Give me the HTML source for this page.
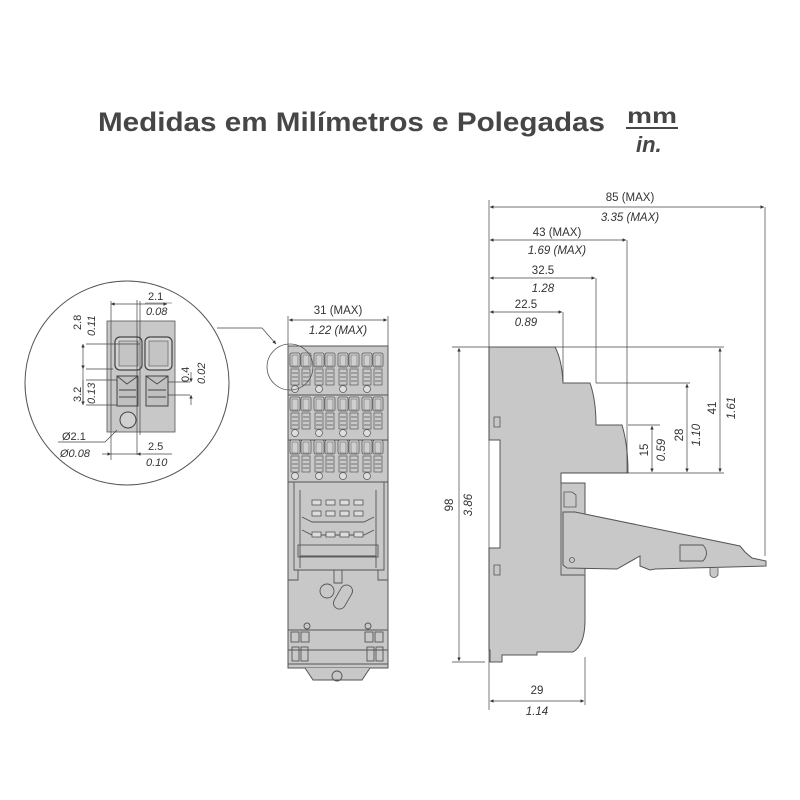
<!DOCTYPE html>
<html><head><meta charset="utf-8"><style>
html,body{margin:0;padding:0;background:#fff;}
svg{display:block;}
text{font-family:"Liberation Sans",sans-serif;fill:#333;}
.i{font-style:italic;}
</style></head><body>
<svg width="800" height="800" viewBox="0 0 800 800" xmlns="http://www.w3.org/2000/svg">
<defs>
<marker id="a" viewBox="0 0 10 10" refX="10" refY="5" markerWidth="7" markerHeight="5" orient="auto-start-reverse"><path d="M0,0 L10,5 L0,10 z" fill="#333"/></marker>
<g id="grp">
  <rect x="0" y="0" width="10" height="14" rx="2" fill="#d6d6d6" stroke="#555" stroke-width="0.8"/>
  <rect x="11" y="0" width="10" height="14" rx="2" fill="#d6d6d6" stroke="#555" stroke-width="0.8"/>
  <rect x="2" y="2" width="6" height="11" fill="#cfcfcf" stroke="#666" stroke-width="0.6"/>
  <rect x="13" y="2" width="6" height="11" fill="#cfcfcf" stroke="#666" stroke-width="0.6"/>
  <rect x="1" y="16" width="8" height="16" fill="#c9c9c9" stroke="#555" stroke-width="0.7"/>
  <rect x="12" y="16" width="8" height="16" fill="#c9c9c9" stroke="#555" stroke-width="0.7"/>
  <path d="M2,20h6M2,24h6M2,28h6M13,20h6M13,24h6M13,28h6" stroke="#555" stroke-width="0.7"/>
  <circle cx="5" cy="36" r="3.5" fill="#ddd" stroke="#555" stroke-width="0.7"/>
</g>
</defs>

<text x="98" y="131" font-size="27" font-weight="bold" textLength="507" lengthAdjust="spacingAndGlyphs" style="fill:#464646">Medidas em Milímetros e Polegadas</text>
<text x="627" y="123" font-size="21" font-weight="bold" textLength="50" lengthAdjust="spacingAndGlyphs" style="fill:#464646">mm</text>
<line x1="626" y1="128" x2="678" y2="128" stroke="#464646" stroke-width="2"/>
<text x="636" y="152" font-size="22" font-weight="bold" font-style="italic" style="fill:#464646">in.</text>

<!-- detail circle -->
<circle cx="127" cy="383" r="102" fill="none" stroke="#555" stroke-width="1"/>
<rect x="107" y="321" width="68" height="111" fill="#c8c8c8" stroke="#555" stroke-width="0.8"/>
<rect x="115" y="337" width="27" height="33" rx="5" fill="#d4d4d4" stroke="#444" stroke-width="1.2"/>
<rect x="145" y="337" width="27" height="33" rx="5" fill="#d4d4d4" stroke="#444" stroke-width="1.2"/>
<rect x="119" y="341" width="19" height="25" fill="#c4c4c4" stroke="#666" stroke-width="0.7"/>
<rect x="149" y="341" width="19" height="25" fill="#c4c4c4" stroke="#666" stroke-width="0.7"/>
<rect x="117" y="376" width="21" height="30" fill="#c0c0c0" stroke="#444" stroke-width="1"/>
<rect x="146" y="376" width="22" height="30" fill="#c0c0c0" stroke="#444" stroke-width="1"/>
<path d="M117,376L127,384L138,376M146,376L157,384L168,376M119,390h17M119,397h17M148,390h18M148,397h18" stroke="#444" stroke-width="0.9" fill="none"/>
<circle cx="128" cy="420" r="8" fill="#d0d0d0" stroke="#444" stroke-width="1"/>
<g stroke="#444" stroke-width="0.7" fill="none">
<path d="M86,344H140M86,369H113M86,380H117M86,405H117M140,301V435M111,301V460M137,300V455M168,382H190M168,395H190"/>
<line x1="111" y1="304" x2="167" y2="304" marker-start="url(#a)" marker-end="url(#a)"/>
<line x1="111" y1="454" x2="137" y2="454"/>
<line x1="102" y1="454" x2="111" y2="454" marker-end="url(#a)"/>
<line x1="146" y1="454" x2="137" y2="454" marker-end="url(#a)"/>
<line x1="146" y1="454" x2="172" y2="454"/>
<line x1="83" y1="344" x2="83" y2="369" marker-start="url(#a)" marker-end="url(#a)"/>
<line x1="83" y1="369" x2="83" y2="405" marker-end="url(#a)"/>
<line x1="83" y1="380" x2="83" y2="405"/>
<line x1="191" y1="372" x2="191" y2="382" marker-end="url(#a)"/>
<line x1="191" y1="405" x2="191" y2="395" marker-end="url(#a)"/>
<path d="M58,442H105L117,430"/>
</g>
<text x="148" y="300" font-size="11">2.1</text>
<line x1="145" y1="303" x2="172" y2="303" stroke="#444" stroke-width="0.6"/>
<text x="146" y="315" font-size="11" class="i">0.08</text>
<text x="81" y="330" font-size="11" transform="rotate(-90 81 330)">2.8</text>
<text x="95" y="336" font-size="11" class="i" transform="rotate(-90 95 336)">0.11</text>
<text x="81" y="402" font-size="11" transform="rotate(-90 81 402)">3.2</text>
<text x="95" y="404" font-size="11" class="i" transform="rotate(-90 95 404)">0.13</text>
<text x="189" y="382" font-size="11" transform="rotate(-90 189 382)">0.4</text>
<text x="205" y="384" font-size="11" class="i" transform="rotate(-90 205 384)">0.02</text>
<text x="62" y="440" font-size="11">Ø2.1</text>
<text x="60" y="457" font-size="11" class="i">Ø0.08</text>
<text x="148" y="450" font-size="11">2.5</text>
<text x="146" y="466" font-size="11" class="i">0.10</text>

<!-- leader -->
<path d="M217,328H262L276,344" fill="none" stroke="#444" stroke-width="0.7" marker-end="url(#a)"/>

<!-- front view -->
<rect x="288" y="346" width="100" height="322" fill="#c8c8c8" stroke="#555" stroke-width="1"/>
<path d="M305,668L313,680H362L370,668" fill="#c8c8c8" stroke="#555" stroke-width="1"/>
<path d="M288,395H388M288,440H388M288,482H388" stroke="#555" stroke-width="1"/>
<g>
<use href="#grp" x="290" y="353"/><use href="#grp" x="314" y="353"/><use href="#grp" x="338" y="353"/><use href="#grp" x="362" y="353"/>
<use href="#grp" x="290" y="397"/><use href="#grp" x="314" y="397"/><use href="#grp" x="338" y="397"/><use href="#grp" x="362" y="397"/>
<use href="#grp" x="290" y="440"/><use href="#grp" x="314" y="440"/><use href="#grp" x="338" y="440"/><use href="#grp" x="362" y="440"/>
</g>
<circle cx="290" cy="367" r="23" fill="none" stroke="#555" stroke-width="0.8"/>
<!-- holder -->
<g fill="none" stroke="#555" stroke-width="0.9">
<path d="M294,482V570H384V482"/>
<path d="M300,490V556H376V490"/>
<path d="M300,556V568M376,556V568"/>
<rect x="298" y="545" width="80" height="12"/>
<path d="M302,517L312,522H364L374,517M302,530L312,535H364L374,530"/>
<path d="M288,580H298V570M388,580H378V570"/>
<path d="M334,570V583H342V570"/>
<circle cx="327" cy="591" r="7"/>
<rect x="337" y="584" width="12" height="26" rx="6" transform="rotate(30 343 597)"/>
<circle cx="307" cy="626" r="3"/><circle cx="368" cy="626" r="3"/>
<path d="M288,630H388M288,650H388M288,664H388"/>
<rect x="291" y="632" width="8" height="10"/><rect x="301" y="632" width="8" height="10"/>
<rect x="365" y="632" width="8" height="10"/><rect x="375" y="632" width="8" height="10"/>
<rect x="292" y="647" width="7" height="14"/><rect x="301" y="647" width="7" height="14"/>
<rect x="367" y="647" width="7" height="14"/><rect x="376" y="647" width="7" height="14"/>
<circle cx="337" cy="676" r="5"/>
</g>
<g stroke="#555" stroke-width="0.8">
<rect x="312" y="500" width="9" height="5" fill="#ddd"/><rect x="326" y="500" width="9" height="5" fill="#ddd"/><rect x="340" y="500" width="9" height="5" fill="#ddd"/><rect x="354" y="500" width="9" height="5" fill="#ddd"/>
<rect x="312" y="511" width="9" height="5" fill="#ddd"/><rect x="326" y="511" width="9" height="5" fill="#ddd"/><rect x="340" y="511" width="9" height="5" fill="#ddd"/><rect x="354" y="511" width="9" height="5" fill="#ddd"/>
<rect x="312" y="532" width="9" height="5" fill="#ddd"/><rect x="326" y="532" width="9" height="5" fill="#ddd"/><rect x="340" y="532" width="9" height="5" fill="#ddd"/><rect x="354" y="532" width="9" height="5" fill="#ddd"/>
</g>
<g stroke="#444" stroke-width="0.7">
<path d="M288,316V346M388,316V346"/>
<line x1="289" y1="320" x2="387" y2="320" marker-start="url(#a)" marker-end="url(#a)"/>
</g>
<text x="338" y="314" font-size="11.5" text-anchor="middle">31 (MAX)</text>
<text x="338" y="334" font-size="11.5" text-anchor="middle" class="i">1.22 (MAX)</text>

<!-- side view -->
<path d="M489,347H555Q562,360 563,383H590Q596,400 596,425H622Q628,445 628,473H561V483H585V620Q585,645 573,652H537V655H502V662H490V650H489V548H500V440H489Z" fill="#c8c8c8" stroke="#555" stroke-width="1"/>
<path d="M561,483V575H585" fill="#c8c8c8" stroke="#555" stroke-width="0.9"/>
<path d="M564,492h8l4,3v12h-12z" fill="#c8c8c8" stroke="#555" stroke-width="0.8"/>
<path d="M563,512H575L740,546L745,552L752,558L766,561L766,566L655,569L650,570L640,566L640,556L617,569L567,568L563,565Z" fill="#c8c8c8" stroke="#555" stroke-width="1"/>
<path d="M680,545H703Q710,553 703,561H680Z" fill="#c8c8c8" stroke="#555" stroke-width="0.9"/>
<path d="M710,568V575Q714,580 718,575V568" fill="#c8c8c8" stroke="#555" stroke-width="0.8"/>
<circle cx="572" cy="560" r="2.5" fill="none" stroke="#555" stroke-width="0.8"/>
<rect x="494" y="417" width="6" height="10" fill="none" stroke="#555" stroke-width="0.8"/>
<rect x="494" y="565" width="6" height="10" fill="none" stroke="#555" stroke-width="0.8"/>

<g stroke="#444" stroke-width="0.7" fill="none">
<path d="M489,200V710M585,657V705M765,207V556M627,240V473M596,278V383M563,312V381"/>
<path d="M555,347H724M596,383H690M628,425H660M562,473H724M452,347H489M452,662H485"/>
<line x1="490" y1="207" x2="764" y2="207" marker-start="url(#a)" marker-end="url(#a)"/>
<line x1="490" y1="240" x2="626" y2="240" marker-start="url(#a)" marker-end="url(#a)"/>
<line x1="490" y1="278" x2="595" y2="278" marker-start="url(#a)" marker-end="url(#a)"/>
<line x1="490" y1="312" x2="562" y2="312" marker-start="url(#a)" marker-end="url(#a)"/>
<line x1="490" y1="701" x2="584" y2="701" marker-start="url(#a)" marker-end="url(#a)"/>
<line x1="459" y1="348" x2="459" y2="661" marker-start="url(#a)" marker-end="url(#a)"/>
<line x1="720" y1="348" x2="720" y2="472" marker-start="url(#a)" marker-end="url(#a)"/>
<line x1="687" y1="384" x2="687" y2="472" marker-start="url(#a)" marker-end="url(#a)"/>
<line x1="652" y1="426" x2="652" y2="472" marker-start="url(#a)" marker-end="url(#a)"/>
</g>
<text x="630" y="201" font-size="11.5" text-anchor="middle">85 (MAX)</text>
<text x="630" y="221" font-size="11.5" text-anchor="middle" class="i">3.35 (MAX)</text>
<text x="557" y="236" font-size="11.5" text-anchor="middle">43 (MAX)</text>
<text x="557" y="254" font-size="11.5" text-anchor="middle" class="i">1.69 (MAX)</text>
<text x="543" y="274" font-size="11.5" text-anchor="middle">32.5</text>
<text x="543" y="292" font-size="11.5" text-anchor="middle" class="i">1.28</text>
<text x="526" y="308" font-size="11.5" text-anchor="middle">22.5</text>
<text x="526" y="326" font-size="11.5" text-anchor="middle" class="i">0.89</text>
<text x="537" y="694" font-size="11.5" text-anchor="middle">29</text>
<text x="537" y="715" font-size="11.5" text-anchor="middle" class="i">1.14</text>
<text x="453" y="505" font-size="11.5" text-anchor="middle" transform="rotate(-90 453 505)">98</text>
<text x="472" y="505" font-size="11.5" text-anchor="middle" class="i" transform="rotate(-90 472 505)">3.86</text>
<text x="716" y="408" font-size="11.5" text-anchor="middle" transform="rotate(-90 716 408)">41</text>
<text x="735" y="408" font-size="11.5" text-anchor="middle" class="i" transform="rotate(-90 735 408)">1.61</text>
<text x="683" y="435" font-size="11.5" text-anchor="middle" transform="rotate(-90 683 435)">28</text>
<text x="700" y="435" font-size="11.5" text-anchor="middle" class="i" transform="rotate(-90 700 435)">1.10</text>
<text x="648" y="450" font-size="11.5" text-anchor="middle" transform="rotate(-90 648 450)">15</text>
<text x="665" y="450" font-size="11.5" text-anchor="middle" class="i" transform="rotate(-90 665 450)">0.59</text>
</svg>
</body></html>
